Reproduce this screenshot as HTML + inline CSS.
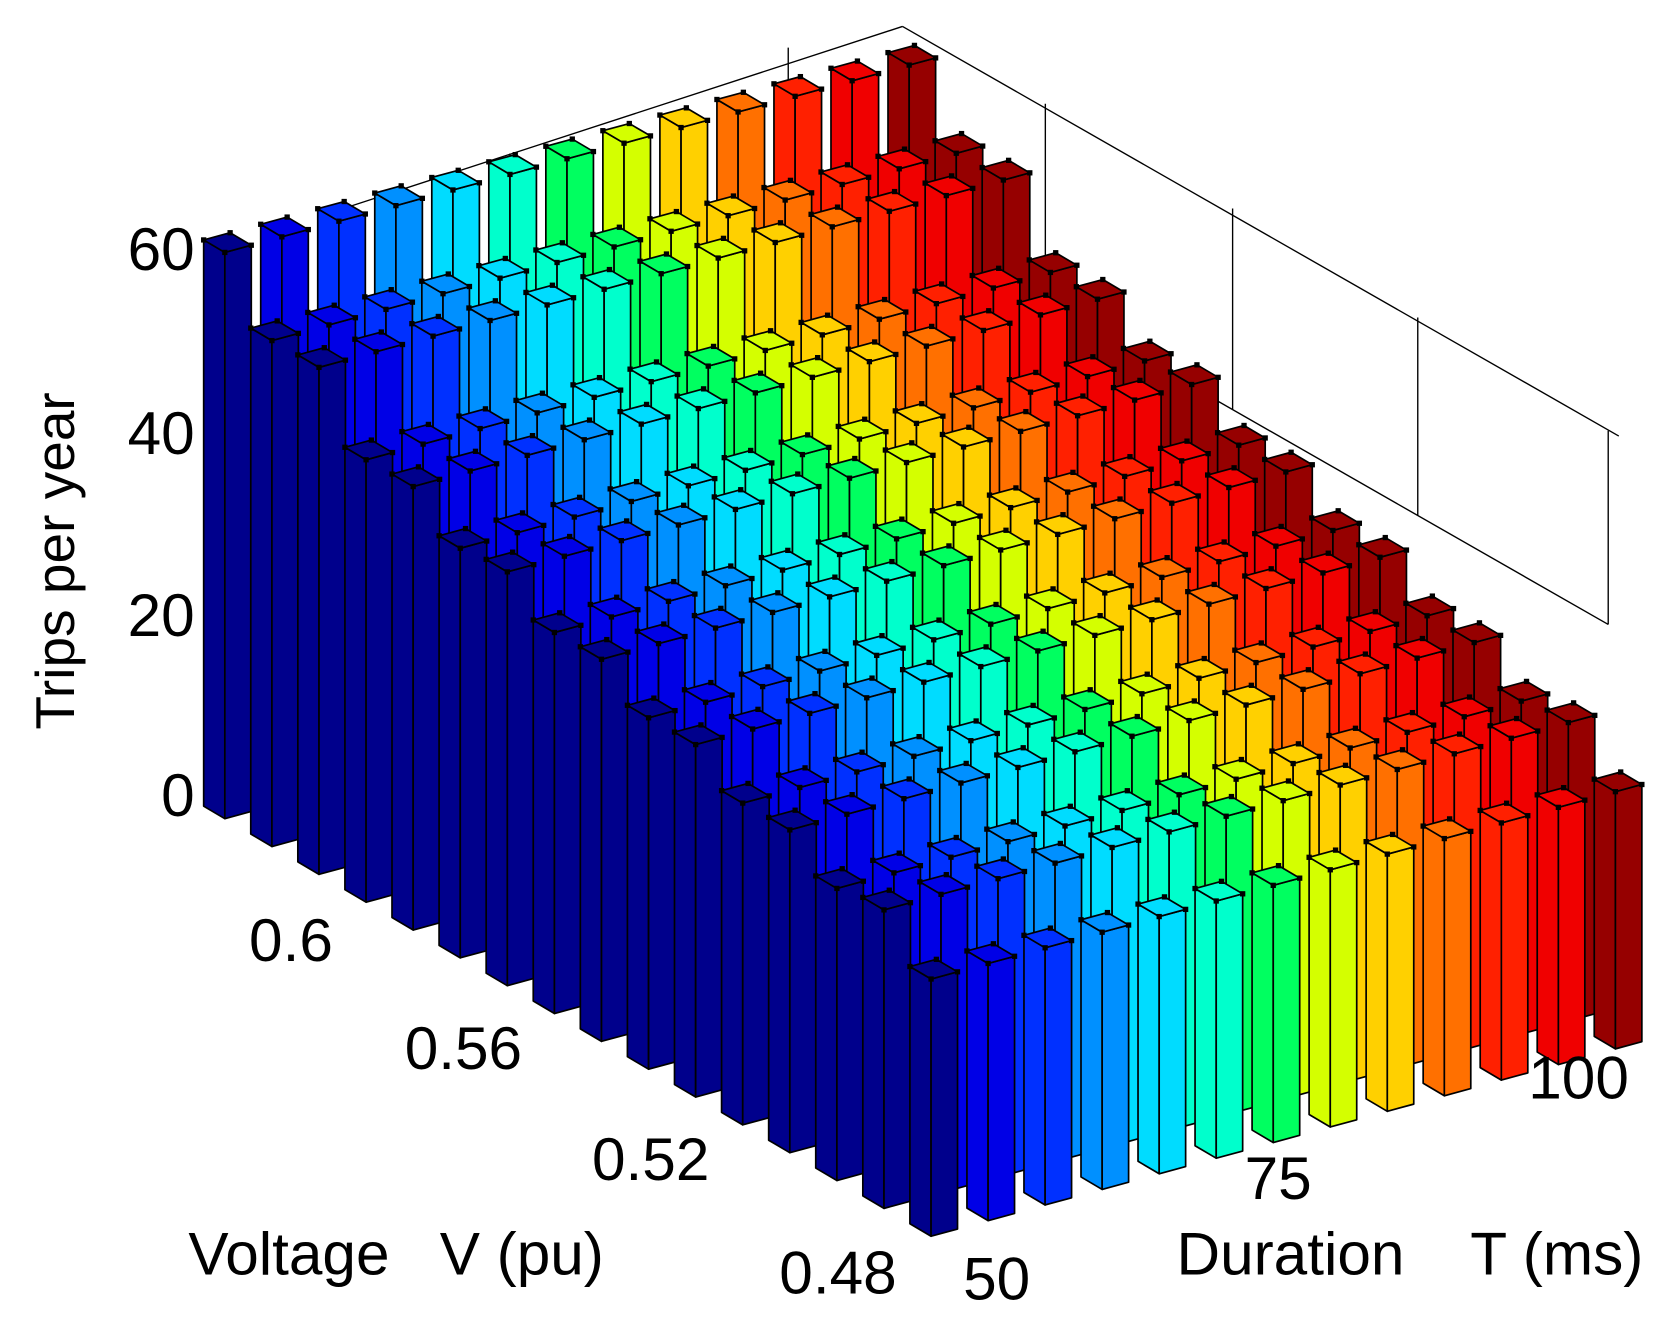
<!DOCTYPE html>
<html><head><meta charset="utf-8"><style>
html,body{margin:0;padding:0;background:#fff;}
svg{display:block;}
text{font-family:"Liberation Sans",Arial,sans-serif;fill:#000;}
</style></head><body>
<svg id="s" width="1659" height="1323" viewBox="0 0 1568 1250" preserveAspectRatio="none" xmlns="http://www.w3.org/2000/svg">
<rect width="1568" height="1250" fill="#fff"/>
<g stroke="#000" stroke-width="1.3" fill="none">
<line x1="853" y1="25" x2="300" y2="205"/>
<line x1="853" y1="25" x2="1530" y2="412"/>
<line x1="880" y1="224" x2="1520" y2="590"/>
<line x1="745" y1="45" x2="745" y2="200"/>
<line x1="482" y1="145" x2="482" y2="220"/>
<line x1="988" y1="98" x2="988" y2="286"/>
<line x1="1165" y1="197" x2="1165" y2="387"/>
<line x1="1340" y1="300" x2="1340" y2="487"/>
<line x1="1520" y1="407" x2="1520" y2="590"/>
</g>
<g id="bars"></g>
<g font-size="57">
<text x="184" y="255" text-anchor="end">60</text>
<text x="184" y="429" text-anchor="end">40</text>
<text x="184" y="601" text-anchor="end">20</text>
<text x="184" y="771" text-anchor="end">0</text>
<text x="275" y="908" text-anchor="middle">0.6</text>
<text x="438" y="1010" text-anchor="middle">0.56</text>
<text x="615" y="1115" text-anchor="middle">0.52</text>
<text x="792" y="1222" text-anchor="middle">0.48</text>
<text x="942" y="1228" text-anchor="middle">50</text>
<text x="1208" y="1133" text-anchor="middle">75</text>
<text x="1492" y="1038" text-anchor="middle">100</text>
<text x="178" y="1204" xml:space="preserve">Voltage   V (pu)</text>
<text x="1112" y="1204" xml:space="preserve">Duration    T (ms)</text>
<text transform="translate(70,530) rotate(-90)" text-anchor="middle" font-size="52">Trips per year</text>
</g>
</svg>
<script>
(function(){
var g=document.getElementById('bars');
var cols=['#00008c','#0000e6','#0030ff','#0090ff','#00dcff','#00ffcc','#00ff60','#d4ff00','#ffd000','#ff7000','#ff2000','#f00000','#960000'];
var H=[535,478,479,418,419,387,391,360,361,332,333,304,305,276,282,243];
var R=[20,11.8],C=[25,-6.8];
var list=[];
for(var r=0;r<16;r++)for(var c=0;c<13;c++){
 var x=880+44.5*(r-15)+53.9*c, y=1168+26.3*(r-15)-14.75*c;
 list.push({r:r,c:c,x:x,y:y});
}
list.sort(function(a,b){return a.y-b.y;});
var out='';
function P(a){return a.map(function(p){return p[0].toFixed(1)+','+p[1].toFixed(1);}).join(' ');}
list.forEach(function(b){
 var h=H[b.r],col=cols[b.c],x=b.x,y=b.y,t=y-h;
 var Lb=[x-R[0],y-R[1]],Fb=[x,y],Rb=[x+C[0],y+C[1]];
 var Lt=[x-R[0],t-R[1]],Ft=[x,t],Rt=[x+C[0],t+C[1]],Bt=[x-R[0]+C[0],t-R[1]+C[1]];
 out+='<polygon points="'+P([Lb,Fb,Ft,Lt])+'" fill="'+col+'" stroke="#000" stroke-width="1.6" stroke-linejoin="round"/>';
 out+='<polygon points="'+P([Fb,Rb,Rt,Ft])+'" fill="'+col+'" stroke="#000" stroke-width="1.6" stroke-linejoin="round"/>';
 out+='<polygon points="'+P([Ft,Lt,Bt,Rt])+'" fill="'+col+'" stroke="#000" stroke-width="1.6" stroke-linejoin="round"/>';
 [Lt,Ft,Rt,Bt].forEach(function(p){out+='<rect x="'+(p[0]-2.5).toFixed(1)+'" y="'+(p[1]-2.5).toFixed(1)+'" width="5" height="5" fill="#000"/>';});
});
g.innerHTML=out;
})();
</script>
</body></html>
